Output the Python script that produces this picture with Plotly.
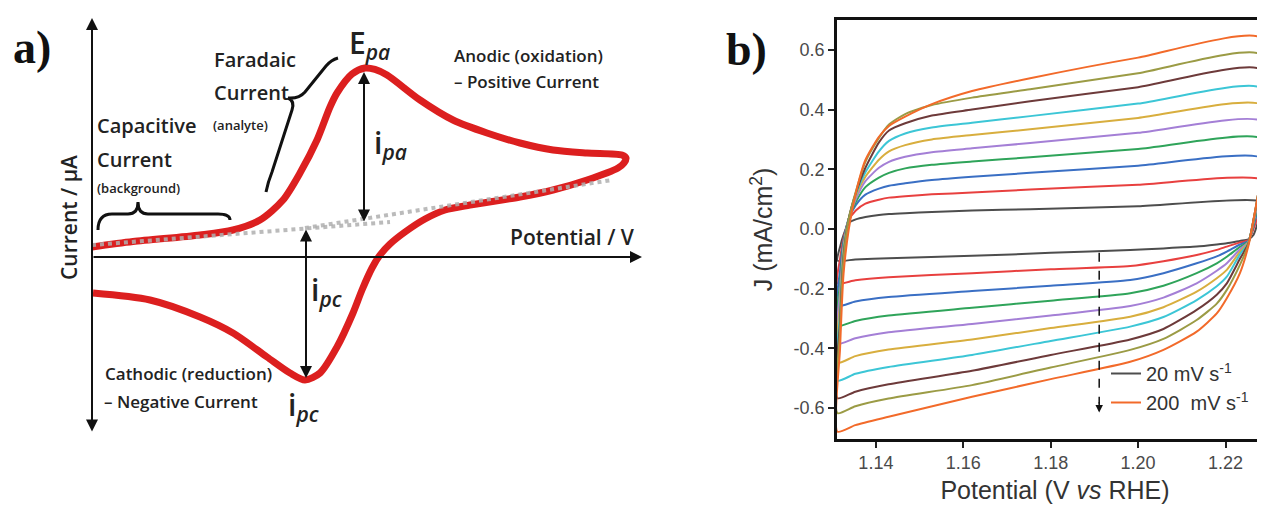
import plotly.graph_objects as go

W, H = 1265, 519
OFF = 8  # page body margin of the exported html

# ---------------- panel a : schematic cyclic voltammogram (arbitrary units) ----------------
cv_potential = [0.0, 0.82, 2.16, 2.82, 3.36, 3.82, 4.16, 4.5, 4.76, 4.9, 5.2, 5.46, 5.66, 5.9, 6.56, 7.22,
                7.9, 8.56, 9.22, 9.9, 10.6, 10.68, 10.64, 10.52,
                9.9, 9.22, 8.56, 7.56, 7.06, 6.66, 6.26, 5.96, 5.76, 5.6, 5.4, 5.22, 4.9, 4.56, 4.26,
                3.96, 3.5, 2.82, 2.16, 1.16, 0.02]
cv_current = [0.5, 0.77, 1.10, 1.35, 1.85, 2.85, 4.2, 5.85, 7.5, 8.2, 9.15, 9.45, 9.38, 9.1, 7.85, 6.85,
              6.2, 5.7, 5.35, 5.2, 5.1, 4.95, 4.7, 4.45,
              3.85, 3.35, 3.0, 2.6, 2.35, 1.9, 1.25, 0.65, 0.1, -0.55, -1.65, -2.8, -4.5, -5.8, -6.15,
              -5.8, -5.0, -3.8, -3.0, -2.15, -1.8]
baseline_anodic_x = [0.0, 5.96]
baseline_anodic_y = [0.6, 1.75]
baseline_cathodic_x = [4.26, 10.4]
baseline_cathodic_y = [1.45, 3.85]
axis_a_x = [0.0, 11.0]
axis_a_y = [-8.8, 11.95]

# ---------------- panel b : CVs at different scan rates ----------------
scan_rates = [20, 40, 60, 80, 100, 120, 140, 160, 180, 200]
colors = ["#4d4d4d", "#e8403f", "#3a6fc4", "#2fa45a", "#a47fd6",
          "#d8ae3e", "#3cc6d6", "#6d3a3a", "#9b9b45", "#f26a2a"]
V_forward = [1.1312, 1.1318, 1.1326, 1.1338, 1.1354, 1.1376, 1.1407, 1.1430, 1.1467,
             1.1528, 1.1620, 1.1753, 1.2000, 1.2283]
V_reverse = [1.2279, 1.2264, 1.2252, 1.2233, 1.2203, 1.2180, 1.2134, 1.2058, 1.1982,
             1.1800, 1.1620, 1.1429, 1.1353, 1.1312]
J_forward = {
    20:  [-0.106, -0.06, -0.02, 0.02, 0.032, 0.040, 0.047, 0.050, 0.053, 0.057, 0.062, 0.066, 0.076, 0.091],
    40:  [-0.182, -0.10, -0.03, 0.03, 0.062, 0.085, 0.098, 0.105, 0.110, 0.116, 0.122, 0.132, 0.148, 0.164],
    60:  [-0.258, -0.14, -0.04, 0.035, 0.080, 0.115, 0.135, 0.145, 0.153, 0.164, 0.175, 0.188, 0.212, 0.237],
    80:  [-0.325, -0.18, -0.05, 0.035, 0.090, 0.140, 0.172, 0.188, 0.203, 0.215, 0.226, 0.240, 0.268, 0.302],
    100: [-0.385, -0.21, -0.06, 0.035, 0.100, 0.160, 0.205, 0.225, 0.242, 0.257, 0.270, 0.288, 0.322, 0.360],
    120: [-0.448, -0.25, -0.07, 0.035, 0.110, 0.175, 0.232, 0.260, 0.281, 0.300, 0.315, 0.334, 0.372, 0.415],
    140: [-0.508, -0.28, -0.08, 0.035, 0.115, 0.190, 0.260, 0.295, 0.320, 0.340, 0.356, 0.378, 0.420, 0.471],
    160: [-0.567, -0.31, -0.09, 0.035, 0.120, 0.205, 0.290, 0.330, 0.354, 0.380, 0.400, 0.428, 0.475, 0.533],
    180: [-0.617, -0.34, -0.10, 0.035, 0.125, 0.225, 0.305, 0.350, 0.385, 0.415, 0.440, 0.468, 0.522, 0.583],
    200: [-0.679, -0.40, -0.15, 0.000, 0.120, 0.231, 0.309, 0.345, 0.376, 0.418, 0.462, 0.505, 0.574, 0.639],
}
J_reverse = {
    20:  [0.050, -0.020, -0.035, -0.040, -0.048, -0.052, -0.059, -0.065, -0.070, -0.080, -0.090, -0.098, -0.102, -0.106],
    40:  [0.070, 0.000, -0.038, -0.045, -0.059, -0.070, -0.087, -0.108, -0.124, -0.135, -0.148, -0.162, -0.172, -0.182],
    60:  [0.100, 0.010, -0.040, -0.052, -0.076, -0.092, -0.115, -0.148, -0.171, -0.190, -0.208, -0.228, -0.243, -0.258],
    80:  [0.130, 0.015, -0.042, -0.060, -0.093, -0.115, -0.148, -0.190, -0.215, -0.240, -0.264, -0.290, -0.308, -0.325],
    100: [0.150, 0.020, -0.044, -0.068, -0.115, -0.140, -0.182, -0.230, -0.258, -0.290, -0.318, -0.346, -0.366, -0.385],
    120: [0.160, 0.025, -0.046, -0.076, -0.137, -0.165, -0.210, -0.262, -0.294, -0.332, -0.370, -0.404, -0.426, -0.448],
    140: [0.165, 0.028, -0.048, -0.085, -0.160, -0.192, -0.238, -0.295, -0.327, -0.375, -0.422, -0.462, -0.485, -0.508],
    160: [0.165, 0.030, -0.050, -0.100, -0.182, -0.220, -0.271, -0.335, -0.370, -0.422, -0.475, -0.520, -0.545, -0.567],
    180: [0.165, 0.030, -0.053, -0.120, -0.204, -0.250, -0.305, -0.368, -0.405, -0.464, -0.523, -0.568, -0.594, -0.617],
    200: [0.164, 0.030, -0.059, -0.148, -0.232, -0.283, -0.344, -0.405, -0.445, -0.503, -0.562, -0.629, -0.657, -0.679],
}
legend_labels = {20: "20 mV s<sup>-1</sup>", 200: "200\u00a0 mV s<sup>-1</sup>"}
x_ticks = [1.14, 1.16, 1.18, 1.20, 1.22]
x_ticktext = ["1.14", "1.16", "1.18", "1.20", "1.22"]
y_ticks = [-0.6, -0.4, -0.2, 0.0, 0.2, 0.4, 0.6]
y_ticktext = ["-0.6", "-0.4", "-0.2", "0.0", "0.2", "0.4", "0.6"]
trend_arrow_V = 1.1911
trend_arrow_J = [-0.08, -0.615]

fig = go.Figure()

# ---- panel b traces ----
for k, rate in enumerate(scan_rates):
    xs = V_forward + V_reverse
    ys = J_forward[rate] + J_reverse[rate]
    fig.add_trace(go.Scatter(
        x=xs, y=ys, mode="lines", xaxis="x", yaxis="y",
        line=dict(color=colors[k], width=2, shape="spline", smoothing=0.6),
        name=legend_labels.get(rate, f"{rate} mV s-1"),
        showlegend=rate in legend_labels, hoverinfo="skip"))

# ---- panel a traces ----
fig.add_trace(go.Scatter(x=cv_potential, y=cv_current, mode="lines", xaxis="x2", yaxis="y2",
                         line=dict(color="#dc1f1f", width=7, shape="spline", smoothing=0.8),
                         showlegend=False, hoverinfo="skip", cliponaxis=False))
for bx, by in [(baseline_anodic_x, baseline_anodic_y), (baseline_cathodic_x, baseline_cathodic_y)]:
    fig.add_trace(go.Scatter(x=bx, y=by, mode="lines", xaxis="x2", yaxis="y2",
                             line=dict(color="rgba(175,175,175,0.85)", width=4, dash="dot"),
                             showlegend=False, hoverinfo="skip", cliponaxis=False))

def P(px, py):
    return (px - OFF) / W, 1 - (py - OFF) / H

ann = []
BLK = "#222222"
SANS = "Open Sans, Noto Sans, sans-serif"

def txt(px, py, text, size, anchor="left", family=SANS, weight=600, color=BLK, angle=0):
    x, y = P(px, py)
    ann.append(dict(x=x, y=y, xref="paper", yref="paper", text=text, showarrow=False,
                    xanchor=anchor, yanchor="middle", textangle=angle,
                    font=dict(family=family, size=size, color=color, weight=weight)))

# panel labels
txt(32, 47, "a)", 46, anchor="center", family="Liberation Serif, Times New Roman, serif", weight=700, color="#111")
txt(746, 49, "b)", 46, anchor="center", family="Liberation Serif, Times New Roman, serif", weight=700, color="#111")

# panel a texts
txt(212, 59, "Faradaic", 20)
txt(212, 92, "Current", 20)
txt(211, 125, "(analyte)", 13)
txt(95, 126, "Capacitive", 20)
txt(95, 159, "Current", 20)
txt(95, 188, "(background)", 13)
txt(347, 44, "E<sub><i>pa</i></sub>", 30)
txt(452, 55, "Anodic (oxidation)", 17)
txt(452, 82, "\u2013 Positive Current", 17)
txt(372, 144, "i<sub><i>pa</i></sub>", 30)
txt(508, 237, "Potential / V", 21)
txt(69, 218, "Current / \u00b5A", 21, anchor="center", angle=-90)
txt(309, 291, "i<sub><i>pc</i></sub>", 30)
txt(286, 406, "i<sub><i>pc</i></sub>", 30)
txt(103, 373, "Cathodic (reduction)", 17)
txt(102, 401, "\u2013 Negative Current", 17)

# panel a arrows (axes + peak currents)
i_max = cv_current.index(max(cv_current))
i_min = cv_current.index(min(cv_current))
arrow_common = dict(xref="x2", yref="y2", axref="x2", ayref="y2", text="", showarrow=True,
                    arrowcolor="#111", arrowwidth=2, arrowhead=2, arrowsize=1.2)
ann.append(dict(x=axis_a_x[0], y=axis_a_y[1], ax=axis_a_x[0], ay=axis_a_y[0], arrowside="end+start", **arrow_common))
ann.append(dict(x=axis_a_x[1], y=0, ax=axis_a_x[0], ay=0, **arrow_common))
ann.append(dict(x=cv_potential[i_max] - 0.02, y=cv_current[i_max] - 0.2, ax=cv_potential[i_max] - 0.02,
                ay=baseline_anodic_y[1] - 0.05, arrowside="end+start", **arrow_common))
ann.append(dict(x=cv_potential[i_min] + 0.02, y=cv_current[i_min] + 0.1, ax=cv_potential[i_min] + 0.02,
                ay=baseline_cathodic_y[0], arrowside="end+start", **arrow_common))

# panel b dashed trend arrow head
ann.append(dict(x=trend_arrow_V, y=trend_arrow_J[1], ax=trend_arrow_V, ay=trend_arrow_J[1] + 0.04,
                xref="x", yref="y", axref="x", ayref="y", text="", showarrow=True,
                arrowcolor="#111", arrowwidth=1.5, arrowhead=2, arrowsize=1))

shapes = [
    dict(type="line", xref="x", yref="y", x0=trend_arrow_V, x1=trend_arrow_V,
         y0=trend_arrow_J[0], y1=trend_arrow_J[1] + 0.03, line=dict(color="#111", width=1.5, dash="dash")),
    # curly braces in panel a
    dict(type="path", xref="x2", yref="y2",
         path="M 0.12,1.35 Q 0.12,2.15 0.4,2.15 L 0.72,2.15 Q 0.92,2.15 0.92,2.75 Q 0.92,2.15 1.12,2.15 "
              "L 2.52,2.15 Q 2.76,2.15 2.76,1.85",
         line=dict(color="#111", width=3)),
    dict(type="path", xref="x2", yref="y2",
         path="M 3.48,3.25 Q 3.52,3.75 3.6,4.25 L 4.0,7.35 Q 4.06,7.8 3.92,7.95 Q 4.14,7.9 4.26,8.25 "
              "L 4.68,9.55 Q 4.78,9.85 4.92,9.95",
         line=dict(color="#111", width=3)),
]

# panel b geometry: plot left at page x 837, extends past the right edge of the window
x_left_V, px_per_V, px_114 = 1.1311, 4370.0, 875.9
x_right_V = 1.14 + (W + OFF - px_114) / px_per_V

TICKF = dict(family="Liberation Sans, Arial, sans-serif", size=18, color="#4a4a4a")
fig.update_layout(
    width=W, height=H, margin=dict(l=0, r=0, t=0, b=0),
    paper_bgcolor="white", plot_bgcolor="white",
    showlegend=True,
    legend=dict(x=(1106 - OFF) / W, y=1 - (354 - OFF) / H, xanchor="left", yanchor="top",
                bgcolor="rgba(0,0,0,0)", font=dict(family="Liberation Sans, Arial, sans-serif", size=20, color="#333"),
                tracegroupgap=0),
    xaxis=dict(domain=[(837 - OFF) / W, 1.0], range=[x_left_V, x_right_V], showline=True, linecolor="#111",
               linewidth=2.5, mirror=True, ticks="outside", ticklen=6, tickwidth=2, tickcolor="#222",
               tickvals=x_ticks, ticktext=x_ticktext, tickfont=TICKF, showgrid=False, zeroline=False,
               automargin=False,
               title=dict(text="Potential (V <i>vs</i> RHE)", standoff=10,
                          font=dict(family="Liberation Sans, Arial, sans-serif", size=25, color="#333"))),
    yaxis=dict(domain=[(H - (439 - OFF)) / H, (H - (20 - OFF)) / H], range=[-0.7035, 0.700], showline=True,
               linecolor="#111", linewidth=2.5, mirror=False, ticks="outside", ticklen=6, tickwidth=2,
               tickcolor="#222", tickvals=y_ticks, ticktext=y_ticktext, tickfont=TICKF, showgrid=False,
               zeroline=False, automargin=False,
               title=dict(text="J (mA/cm<sup>2</sup>)", standoff=14,
                          font=dict(family="Liberation Sans, Arial, sans-serif", size=25, color="#333"))),
    xaxis2=dict(domain=[(92 - OFF) / W, (642 - OFF) / W], range=axis_a_x, visible=False, anchor="y2"),
    yaxis2=dict(domain=[(H - (433 - OFF)) / H, (H - (18 - OFF)) / H], range=axis_a_y, visible=False, anchor="x2"),
    annotations=ann, shapes=shapes,
)

fig.write_html("out.html")
